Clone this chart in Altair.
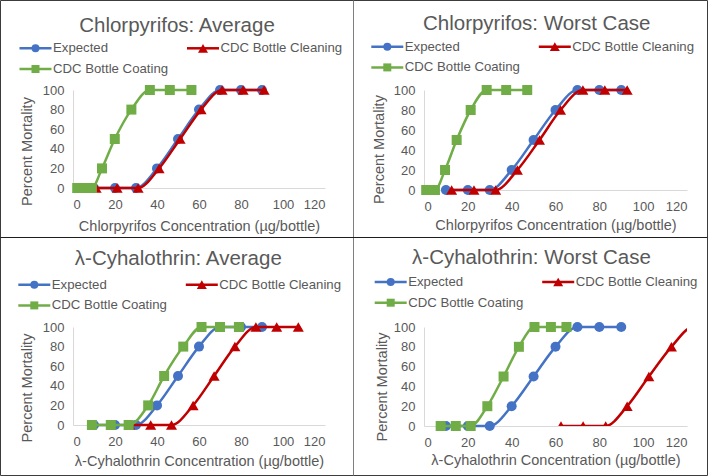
import altair as alt
import pandas as pd

# ---- data -----------------------------------------------------------------
SERIES = ["Expected", "CDC Bottle Cleaning", "CDC Bottle Coating"]
COLORS = ["#4472C4", "#C00000", "#70AD47"]

mortality = [0, 0, 0, 20, 50, 80, 100, 100, 100]
expected_conc = [10, 20, 30, 40, 50, 60, 70, 80, 90]

chlor_avg_cleaning = [11, 21, 31, 41, 51, 61, 71, 81, 91]
chlor_avg_coating = [2, 5.5, 9, 13.8, 19.9, 27.8, 36.6, 46.1, 56.4]
chlor_worst_cleaning = [12.6, 22.8, 32.7, 42.6, 52.7, 62.3, 72.5, 82.5, 92.7]
chlor_worst_coating = [1, 3, 5, 9.6, 14.9, 21.3, 28.6, 37.5, 47.1]
lambda_avg_cleaning = [27, 37, 46.9, 57.2, 67.2, 77.1, 87.1, 97, 107.3]
lambda_avg_coating = [9, 18, 26.5, 35.8, 43.4, 52.5, 61.2, 70, 79]
lambda_worst_cleaning = [62.5, 72.6, 82.9, 92.7, 102.6, 112.9, 122.9, 132.9, 142.9]
lambda_worst_coating = [7.6, 14.5, 21.3, 28.9, 36.3, 43.3, 50.4, 57.9, 65]

panel_titles = [
    "Chlorpyrifos: Average",
    "Chlorpyrifos: Worst Case",
    "λ-Cyhalothrin: Average",
    "λ-Cyhalothrin: Worst Case",
]
x_titles = [
    "Chlorpyrifos Concentration (µg/bottle)",
    "Chlorpyrifos Concentration (µg/bottle)",
    "λ-Cyhalothrin Concentration (µg/bottle)",
    "λ-Cyhalothrin Concentration (µg/bottle)",
]
panel_series = [
    (expected_conc, chlor_avg_cleaning, chlor_avg_coating),
    (expected_conc, chlor_worst_cleaning, chlor_worst_coating),
    (expected_conc, lambda_avg_cleaning, lambda_avg_coating),
    (expected_conc, lambda_worst_cleaning, lambda_worst_coating),
]

x_ticks = [0, 20, 40, 60, 80, 100, 120]
y_ticks = [0, 20, 40, 60, 80, 100]
X_MAX = 120

# ---- styling ----------------------------------------------------------------
FONT = "Liberation Sans"
TEXT = "#595959"
MARKERS = ["circle", "triangle-up", "square"]
MARKER_SIZES = [100, 121, 100]
KEY_SIZES = [64, 100, 64]

# per-panel layout (pixels, relative to each plot area's top-left corner)
LAYOUT = [
    dict(w=252, h=98, tx=104, ty=-58.3, lx=-53.5, ly=-41.7, ytx=-46, yty=61, xty=38),
    dict(w=263, h=100, tx=112.7, ty=-60, lx=-52.7, ly=-43.3, ytx=-45, yty=59, xty=35.5),
    dict(w=252, h=98, tx=105.3, ty=-62.3, lx=-54.7, ly=-42.3, ytx=-46, yty=60.5, xty=36),
    dict(w=263, h=99, tx=107.5, ty=-63, lx=-49.3, ly=-45, ytx=-42, yty=59.5, xty=34),
]
KEY_LINE = 32      # length of a legend key line
KEY_TEXT = 33.5    # label start, from the key line start
KEY_COL = 167.5    # second legend column, from the first
KEY_ROW = 20.7     # legend row pitch
# legend grid slot (column, row) of each series
KEY_SLOTS = [(0, 0), (1, 0), (0, 1)]

color_scale = alt.Scale(domain=SERIES, range=COLORS)


def panel_frame(i):
    rows = []
    for name, conc in zip(SERIES, panel_series[i]):
        for c, m in zip(conc, mortality):
            rows.append({"series": name, "conc": c, "mortality": m})
    return pd.DataFrame(rows)


def border_layers():
    # outer frame and the two dividers, placed relative to the first plot area
    one = alt.Chart(alt.Data(values=[{}]))
    outer = one.mark_rect(fillOpacity=0, stroke="#3c3c3c", strokeWidth=1).encode(
        x=alt.value(-72.5), x2=alt.value(634.5), y=alt.value(-89.5), y2=alt.value(385.5)
    )
    vdiv = one.mark_rule(stroke="#7f7f7f", strokeWidth=1).encode(
        x=alt.value(280.5), y=alt.value(-89.5), y2=alt.value(385.5)
    )
    hdiv = one.mark_rule(stroke="#1e1e1e", strokeWidth=1).encode(
        x=alt.value(-72.5), x2=alt.value(634.5), y=alt.value(147.5)
    )
    return [outer, vdiv, hdiv]


def title_layer(i):
    lay = LAYOUT[i]
    return (
        alt.Chart(alt.Data(values=[{"label": panel_titles[i]}]))
        .mark_text(font=FONT, fontSize=20.5, color=TEXT, align="center", baseline="alphabetic")
        .encode(text="label:N", x=alt.value(lay["tx"]), y=alt.value(lay["ty"]))
    )


def legend_layers(i):
    lay = LAYOUT[i]
    out = []
    for name, shape, size, (col, row) in zip(SERIES, MARKERS, KEY_SIZES, KEY_SLOTS):
        x0 = lay["lx"] + col * KEY_COL
        y0 = lay["ly"] + row * KEY_ROW
        entry = alt.Chart(alt.Data(values=[{"series": name}]))
        out.append(
            entry.mark_rule(strokeWidth=2.5).encode(
                x=alt.value(x0), x2=alt.value(x0 + KEY_LINE), y=alt.value(y0),
                stroke=alt.Stroke("series:N", scale=color_scale, legend=None),
            )
        )
        out.append(
            entry.mark_point(shape=shape, size=size, filled=True, opacity=1).encode(
                x=alt.value(x0 + KEY_LINE / 2), y=alt.value(y0),
                fill=alt.Fill("series:N", scale=color_scale, legend=None),
            )
        )
        out.append(
            entry.mark_text(font=FONT, fontSize=13.2, color=TEXT, align="left",
                            baseline="middle").encode(
                text="series:N", x=alt.value(x0 + KEY_TEXT), y=alt.value(y0)
            )
        )
    return out


def make_panel(i):
    lay = LAYOUT[i]
    base = alt.Chart(panel_frame(i))

    x = alt.X(
        "conc:Q",
        scale=alt.Scale(domain=[0, X_MAX], nice=False, zero=False),
        axis=alt.Axis(values=x_ticks, title=x_titles[i], labelPadding=10,
                      titleY=lay["xty"], titleBaseline="middle"),
    )
    y = alt.Y(
        "mortality:Q",
        scale=alt.Scale(domain=[0, 100], nice=False),
        axis=alt.Axis(values=y_ticks, title="Percent Mortality", labelPadding=9,
                      titleX=lay["ytx"], titleY=lay["yty"], titleBaseline="middle"),
    )

    layers = border_layers() if i == 0 else []
    for name, conc, shape, size in zip(SERIES, panel_series[i], MARKERS, MARKER_SIZES):
        sub = base.transform_filter(alt.datum.series == name)
        # only a series that runs past the axis end is cut at the plot edge
        cut = max(conc) > X_MAX
        layers.append(
            sub.mark_line(interpolate="monotone", strokeWidth=2.5, clip=cut).encode(
                x=x, y=y, stroke=alt.Stroke("series:N", scale=color_scale, legend=None)
            )
        )
        layers.append(
            sub.mark_point(shape=shape, size=size, filled=True, opacity=1, clip=cut).encode(
                x=x, y=y, fill=alt.Fill("series:N", scale=color_scale, legend=None)
            )
        )
    layers.append(title_layer(i))
    layers.extend(legend_layers(i))

    return alt.layer(*layers).properties(width=lay["w"], height=lay["h"])


panels = [make_panel(i) for i in range(4)]

chart = (
    alt.concat(*panels, columns=2, spacing={"row": 137, "column": 99},
               bounds="flush", align="each")
    .resolve_scale(x="independent", y="independent")
    .properties(padding=0, background="white")
    .configure_view(strokeWidth=0)
    .configure_axis(
        labelFont=FONT, labelFontSize=13, labelColor=TEXT,
        titleFont=FONT, titleFontSize=14.5, titleColor=TEXT, titleFontWeight="normal",
        domainColor="#D9D9D9", domainWidth=1, ticks=False, grid=False,
    )
)

chart.save("out.html", embed_options={"renderer": "svg", "actions": False})
